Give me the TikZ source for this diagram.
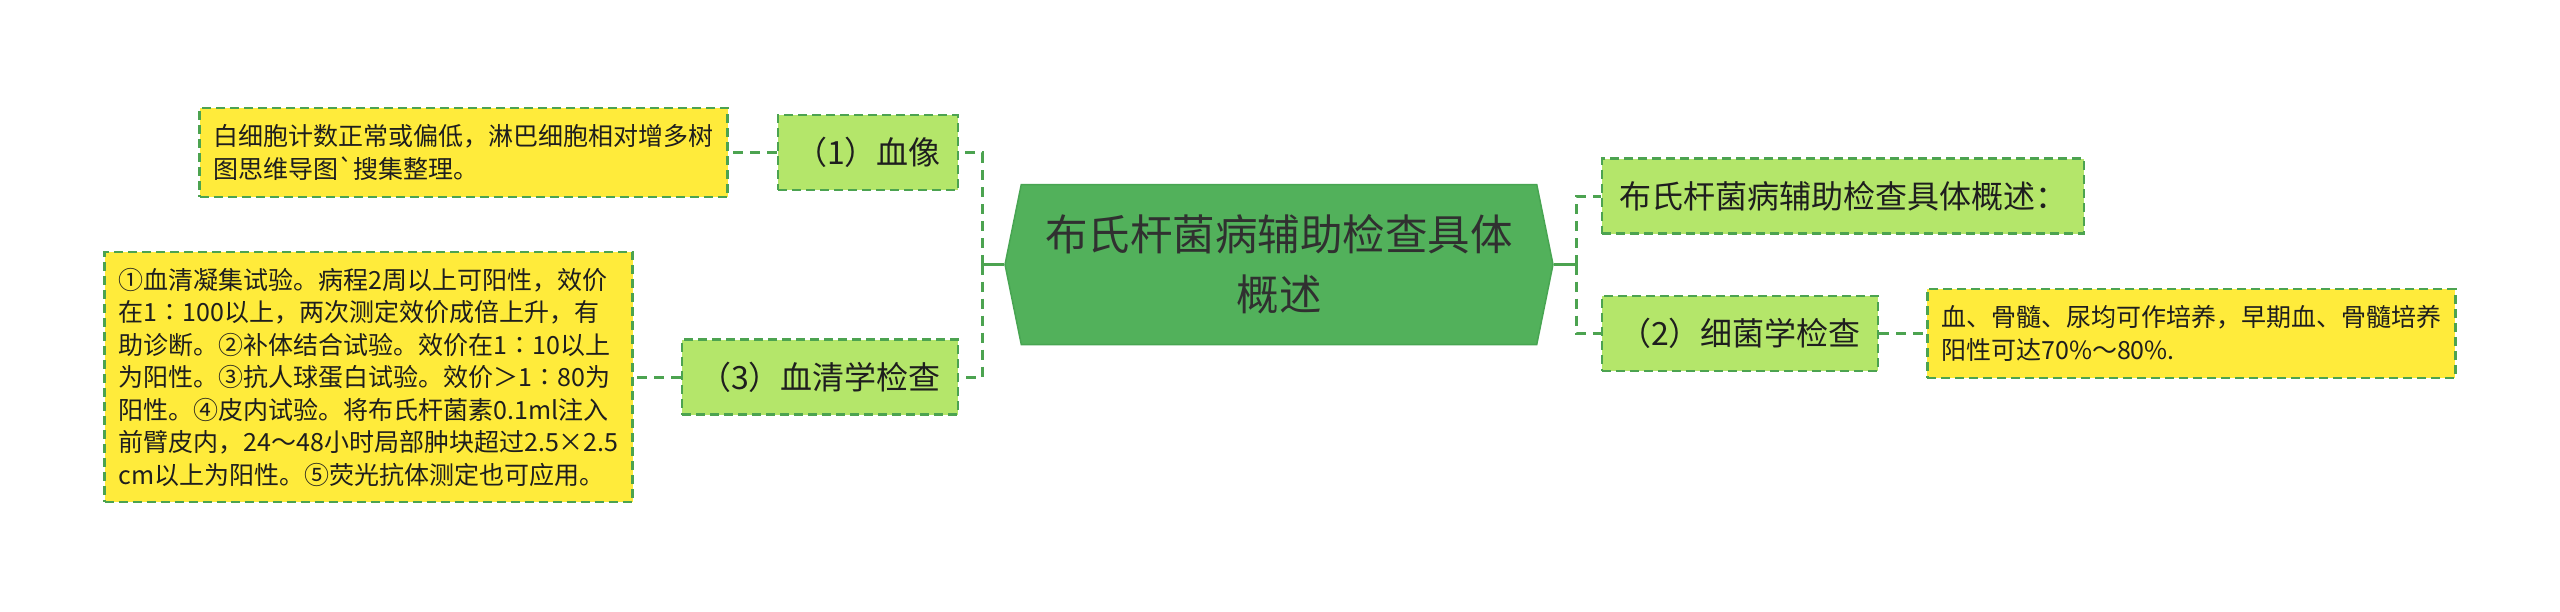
\documentclass[tikz,border=0pt]{standalone}
\usepackage{fontspec}
\newfontfamily\cjk{Noto Sans CJK SC}
\usepackage{tikz}
\usetikzlibrary{shapes.symbols,positioning}
\tikzstyle{topic} = [signal, signal to=west and east, signal pointer angle=157, minimum width=548pt, minimum height=160pt, inner sep=0pt, draw=hubline, line width=1.5pt, fill=hubgreen, text=darktext, align=center, font=\cjk\fontsize{42.5}{60}\selectfont]
\tikzstyle{branch} = [rectangle, minimum height=75pt, inner xsep=17pt, draw=linegreen, dash pattern=on 9pt off 5pt, line width=2.5pt, fill=lightgreen, text=nodetext, font=\cjk\fontsize{32}{40}\selectfont]
\tikzstyle{leaf} = [rectangle, minimum height=89pt, text width=500pt, inner xsep=14pt, inner ysep=12pt, draw=linegreen, dash pattern=on 9pt off 5pt, line width=2.5pt, fill=leafyellow, text=nodetext, align=left, font=\cjk\fontsize{25}{32.5}\selectfont]
\tikzstyle{link} = [draw=linegreen, line width=3pt, dash pattern=on 10pt off 7pt]
\tikzstyle{stub} = [draw=linegreen, line width=3pt]
\definecolor{hubgreen}{RGB}{82,177,91}
\definecolor{hubline}{RGB}{72,165,82}
\definecolor{linegreen}{RGB}{76,163,80}
\definecolor{lightgreen}{RGB}{180,230,106}
\definecolor{leafyellow}{RGB}{255,235,59}
\definecolor{darktext}{RGB}{48,48,48}
\definecolor{nodetext}{RGB}{30,30,30}

\begin{document}
\begin{tikzpicture}[x=1pt,y=1pt]
\useasboundingbox (0,0) rectangle (2560,-611);
\node (hub) [topic] at (1279,-264.5) {布氏杆菌病辅助检查具体\\概述};
\node (blood) [branch, left=45pt of hub.west, yshift=112pt] {（1）血像};
\node (serum) [branch, left=45pt of hub.west, yshift=-112.5pt] {（3）血清学检查};
\node (summary) [branch, right=47pt of hub.east, yshift=68.5pt] {布氏杆菌病辅助检查具体概述：};
\node (bact) [branch, right=47pt of hub.east, yshift=-69pt] {（2）细菌学检查};
\node (bloodtxt) [leaf, left=48pt of blood] {白细胞计数正常或偏低，淋巴细胞相对增多树\\
图思维导图{\char"60}搜集整理。};
\node (serumtxt) [leaf, left=47pt of serum, minimum height=250pt] {①血清凝集试验。病程2周以上可阳性，效价\\
在1∶100以上，两次测定效价成倍上升，有\\
助诊断。②补体结合试验。效价在1∶10以上\\
为阳性。③抗人球蛋白试验。效价＞1∶80为\\
阳性。④皮内试验。将布氏杆菌素0.1ml注入\\
前臂皮内，24～48小时局部肿块超过2.5×2.5\\
cm以上为阳性。⑤荧光抗体测定也可应用。};
\node (bacttxt) [leaf, right=47pt of bact] {血、骨髓、尿均可作培养，早期血、骨髓培养\\
阳性可达70\%～80\%.};
\coordinate (jl) at ([xshift=-22pt]hub.west);
\coordinate (jr) at ([xshift=23pt]hub.east);
\draw[stub] (hub.west) -- (jl);
\draw[stub] (hub.east) -- (jr);
\draw[link] (jl) |- (blood);
\draw[link] (jl) |- (serum);
\draw[link] (jr) |- (summary);
\draw[link] (jr) |- (bact);
\draw[link] (blood) -- (bloodtxt);
\draw[link] (serum) -- (serumtxt);
\draw[link] (bact) -- (bacttxt);
\end{tikzpicture}
\end{document}
